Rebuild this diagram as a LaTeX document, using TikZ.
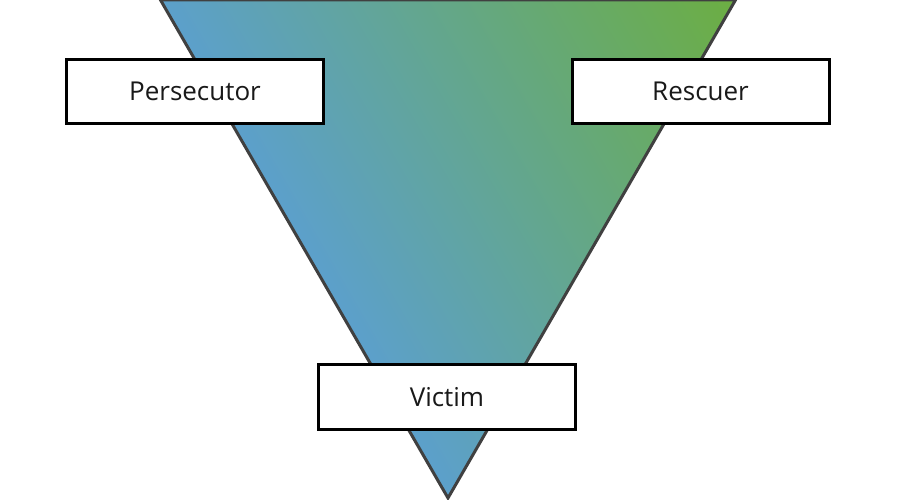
\documentclass[tikz,border=0pt]{standalone}
\usepackage{fontspec}
\setmainfont{Open Sans}
\definecolor{triblue}{RGB}{92,160,203}
\definecolor{trigreen}{RGB}{108,174,66}
\definecolor{triedge}{RGB}{64,64,64}
\definecolor{txt}{RGB}{25,25,25}
\pgfdeclareverticalshading{trigrad}{300bp}{color(0bp)=(triblue); color(20bp)=(triblue); color(120bp)=(trigreen); color(140bp)=(trigreen)}
\tikzset{
  rolebox/.style={draw=black, fill=white, line width=3pt, minimum width=257pt, minimum height=64pt, inner sep=0pt, font=\fontsize{26}{31}\selectfont, text=txt},
}
\begin{document}
\begin{tikzpicture}[x=1pt,y=-1pt]
\useasboundingbox (0,0) rectangle (900,500);
\coordinate (tl) at (160.5,0);
\coordinate (tr) at (735.5,0);
\coordinate (ap) at (448,498);
\coordinate (gc) at (520,124.5);
\begin{scope}
  \clip (tl) -- (tr) -- (ap) -- cycle;
  \node[inner sep=0pt, outer sep=0pt, anchor=center, rotate=-60, scale=4.9614, transform shape] (grad) at (gc) {\pgfuseshading{trigrad}};
\end{scope}
\draw[triedge, line width=3pt, line join=miter] (tl) -- (tr) -- (ap) -- cycle;
\node[rolebox] (per) at (195,91.75) {Persecutor};
\node[rolebox] (res) at (700.5,91.75) {Rescuer};
\node[rolebox, minimum height=65pt] (vic) at (447,397.3) {Victim};
\end{tikzpicture}
\end{document}
